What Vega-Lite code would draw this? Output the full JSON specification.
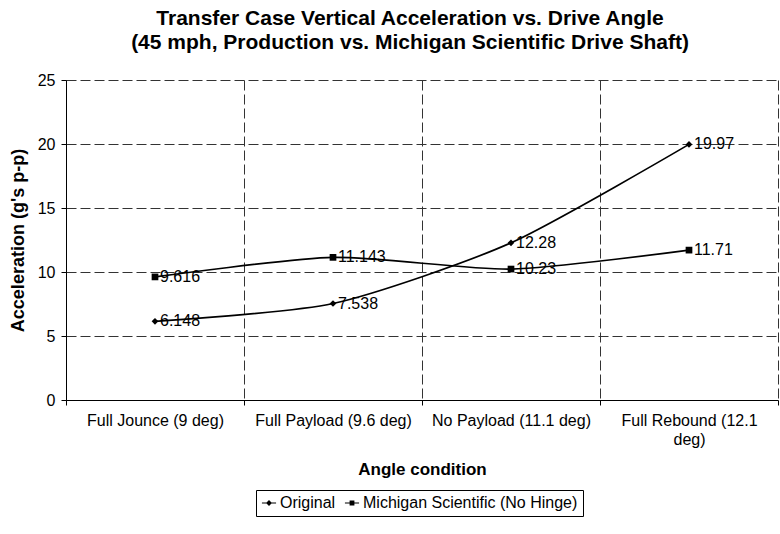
{
  "$schema": "https://vega.github.io/schema/vega-lite/v6.json",
  "width": 712,
  "height": 320,
  "autosize": {"type": "none"},
  "padding": {"left": 66, "top": 80, "right": 2, "bottom": 134},
  "background": "white",
  "title": {
    "text": ["Transfer Case Vertical Acceleration vs. Drive Angle", "(45 mph, Production vs. Michigan Scientific Drive Shaft)"],
    "fontSize": 21,
    "font": "Liberation Sans",
    "fontWeight": "bold",
    "color": "black",
    "anchor": "middle",
    "offset": 19,
    "lineHeight": 24,
    "dx": -12
  },
  "config": {
    "view": {"stroke": null},
    "font": "Liberation Sans"
  },
  "data": {
    "values": [
      {"condition": "Full Jounce (9 deg)", "series": "Original", "accel": 6.148},
      {"condition": "Full Payload (9.6 deg)", "series": "Original", "accel": 7.538},
      {"condition": "No Payload (11.1 deg)", "series": "Original", "accel": 12.28},
      {"condition": "Full Rebound (12.1 deg)", "series": "Original", "accel": 19.97},
      {"condition": "Full Jounce (9 deg)", "series": "Michigan Scientific (No Hinge)", "accel": 9.616},
      {"condition": "Full Payload (9.6 deg)", "series": "Michigan Scientific (No Hinge)", "accel": 11.143},
      {"condition": "No Payload (11.1 deg)", "series": "Michigan Scientific (No Hinge)", "accel": 10.23},
      {"condition": "Full Rebound (12.1 deg)", "series": "Michigan Scientific (No Hinge)", "accel": 11.71}
    ]
  },
  "encoding": {
    "x": {
      "field": "condition",
      "type": "nominal",
      "sort": null,
      "scale": {"paddingInner": 0, "paddingOuter": 0},
      "axis": {
        "title": "Angle condition",
        "titleFontSize": 17,
        "titleFontWeight": "bold",
        "titleColor": "black",
        "titlePadding": 14,
        "labelAngle": 0,
        "labelFontSize": 16,
        "labelColor": "black",
        "labelPadding": 7,
        "labelLineHeight": 19,
        "labelLimit": 300,
        "labelExpr": "datum.label == 'Full Rebound (12.1 deg)' ? ['Full Rebound (12.1', 'deg)'] : datum.label",
        "tickBand": "extent",
        "tickColor": "black",
        "tickSize": 5,
        "domainColor": "black",
        "grid": true,
        "gridColor": "#333",
        "gridDash": [10, 4],
        "gridWidth": 1
      }
    },
    "y": {
      "field": "accel",
      "type": "quantitative",
      "scale": {"domain": [0, 25]},
      "axis": {
        "values": [0, 5, 10, 15, 20, 25],
        "title": "Acceleration (g's p-p)",
        "titleFontSize": 18,
        "titleFontWeight": "bold",
        "titleColor": "black",
        "titlePadding": 10,
        "labelFontSize": 16,
        "labelColor": "black",
        "labelPadding": 6,
        "tickColor": "black",
        "tickSize": 5,
        "domainColor": "black",
        "gridColor": "#333",
        "gridDash": [10, 4],
        "gridWidth": 1
      }
    }
  },
  "resolve": {"scale": {"shape": "independent"}, "legend": {"shape": "independent"}},
  "layer": [
    {
      "mark": {"type": "line", "interpolate": "cardinal", "tension": 0.3, "color": "black", "strokeWidth": 1.7},
      "encoding": {"detail": {"field": "series"}}
    },
    {
      "mark": {"type": "point", "filled": true, "color": "black", "opacity": 1, "size": 45},
      "encoding": {
        "shape": {
          "field": "series",
          "type": "nominal",
          "scale": {"domain": ["Original", "Michigan Scientific (No Hinge)"], "range": ["diamond", "square"]},
          "legend": null
        }
      }
    },
    {
      "transform": [{"filter": "false"}],
      "mark": {"type": "point", "filled": true, "color": "black", "opacity": 1},
      "encoding": {
        "shape": {
          "field": "series",
          "type": "nominal",
          "scale": {
            "domain": ["Original", "Michigan Scientific (No Hinge)"],
            "range": ["M-1,-0.08H1V0.08H-1ZM0,-0.42L0.42,0L0,0.42L-0.42,0Z", "M-1,-0.08H1V0.08H-1ZM-0.34,-0.34H0.34V0.34H-0.34Z"]
          },
          "legend": {
            "title": null,
            "orient": "none",
            "legendX": 190,
            "legendY": 410,
            "direction": "horizontal",
            "strokeColor": "black",
            "padding": 5,
            "labelFontSize": 16,
            "labelColor": "black",
            "labelLimit": 400,
            "symbolSize": 200,
            "symbolFillColor": "black",
            "symbolStrokeWidth": 0,
            "columnPadding": 8,
            "labelOffset": 3
          }
        }
      }
    },
    {
      "mark": {"type": "text", "align": "left", "baseline": "middle", "dx": 5, "fontSize": 16, "color": "black"},
      "encoding": {"text": {"field": "accel", "type": "nominal"}}
    }
  ]
}
